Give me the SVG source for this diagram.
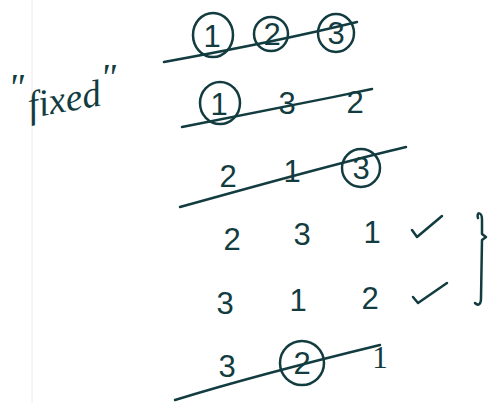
<svg xmlns="http://www.w3.org/2000/svg" width="494" height="403" viewBox="0 0 494 403">
<style>
.ink{fill:none;stroke:#123c40;stroke-width:2.5;stroke-linecap:round;stroke-linejoin:round}
.d{font-family:"Liberation Sans",Arial,sans-serif;font-size:31px;fill:#123c40;text-anchor:middle}
.w{font-family:"Liberation Serif",serif;font-style:italic;font-size:38px;fill:#123c40}
</style>
<rect width="494" height="403" fill="#ffffff"/>
<line x1="32" y1="0" x2="32" y2="403" stroke="#f6e4e8" stroke-width="1"/>
<g id="label-fixed">
<text class="w" x="8" y="100" font-size="20">"</text>
<text class="w" x="30" y="118" transform="rotate(-10 30 118)">fixed</text>
<text class="w" x="100" y="90" font-size="20">"</text>
</g>
<g id="row1">
<ellipse class="ink" cx="213" cy="35" rx="20" ry="22"/>
<text class="d" x="212" y="47">1</text>
<ellipse class="ink" cx="271" cy="34" rx="17" ry="17"/>
<text class="d" x="272" y="45">2</text>
<ellipse class="ink" cx="336" cy="33" rx="18" ry="19"/>
<text class="d" x="336" y="44">3</text>
<path class="ink" d="M164,62 C230,50 300,36 357,22"/>
</g>
<g id="row2">
<ellipse class="ink" cx="220" cy="103" rx="20" ry="21"/>
<text class="d" x="219" y="115">1</text>
<text class="d" x="287" y="114">3</text>
<text class="d" x="355" y="113">2</text>
<path class="ink" d="M182,127 C250,114 310,102 372,89"/>
</g>
<g id="row3">
<text class="d" x="228" y="187">2</text>
<text class="d" x="292" y="182">1</text>
<ellipse class="ink" cx="361" cy="168" rx="19" ry="19"/>
<text class="d" x="361" y="179">3</text>
<path class="ink" d="M180,207 C260,185 330,165 406,147"/>
</g>
<g id="row4">
<text class="d" x="232" y="250">2</text>
<text class="d" x="302" y="245">3</text>
<text class="d" x="372" y="243">1</text>
<path class="ink" d="M412,230 L417,237 L442,216"/>
</g>
<g id="row5">
<text class="d" x="225" y="314">3</text>
<text class="d" x="298" y="311">1</text>
<text class="d" x="370" y="309">2</text>
<path class="ink" d="M413,297 L418,303 L447,283"/>
</g>
<g id="row6">
<text class="d" x="227" y="377">3</text>
<ellipse class="ink" cx="302" cy="363" rx="22" ry="22"/>
<text class="d" x="302" y="374">2</text>
<text class="d" x="380" y="368" style="font-family:'Liberation Serif',serif">1</text>
<path class="ink" d="M175,400 C240,380 310,362 380,345"/>
</g>
<g id="brace">
<path class="ink" d="M478,218 C476,212 482,211 482,220 L482,234 L486,237 L482,240 L481,298 C481,305 478,306 475,303"/>
</g>
</svg>
